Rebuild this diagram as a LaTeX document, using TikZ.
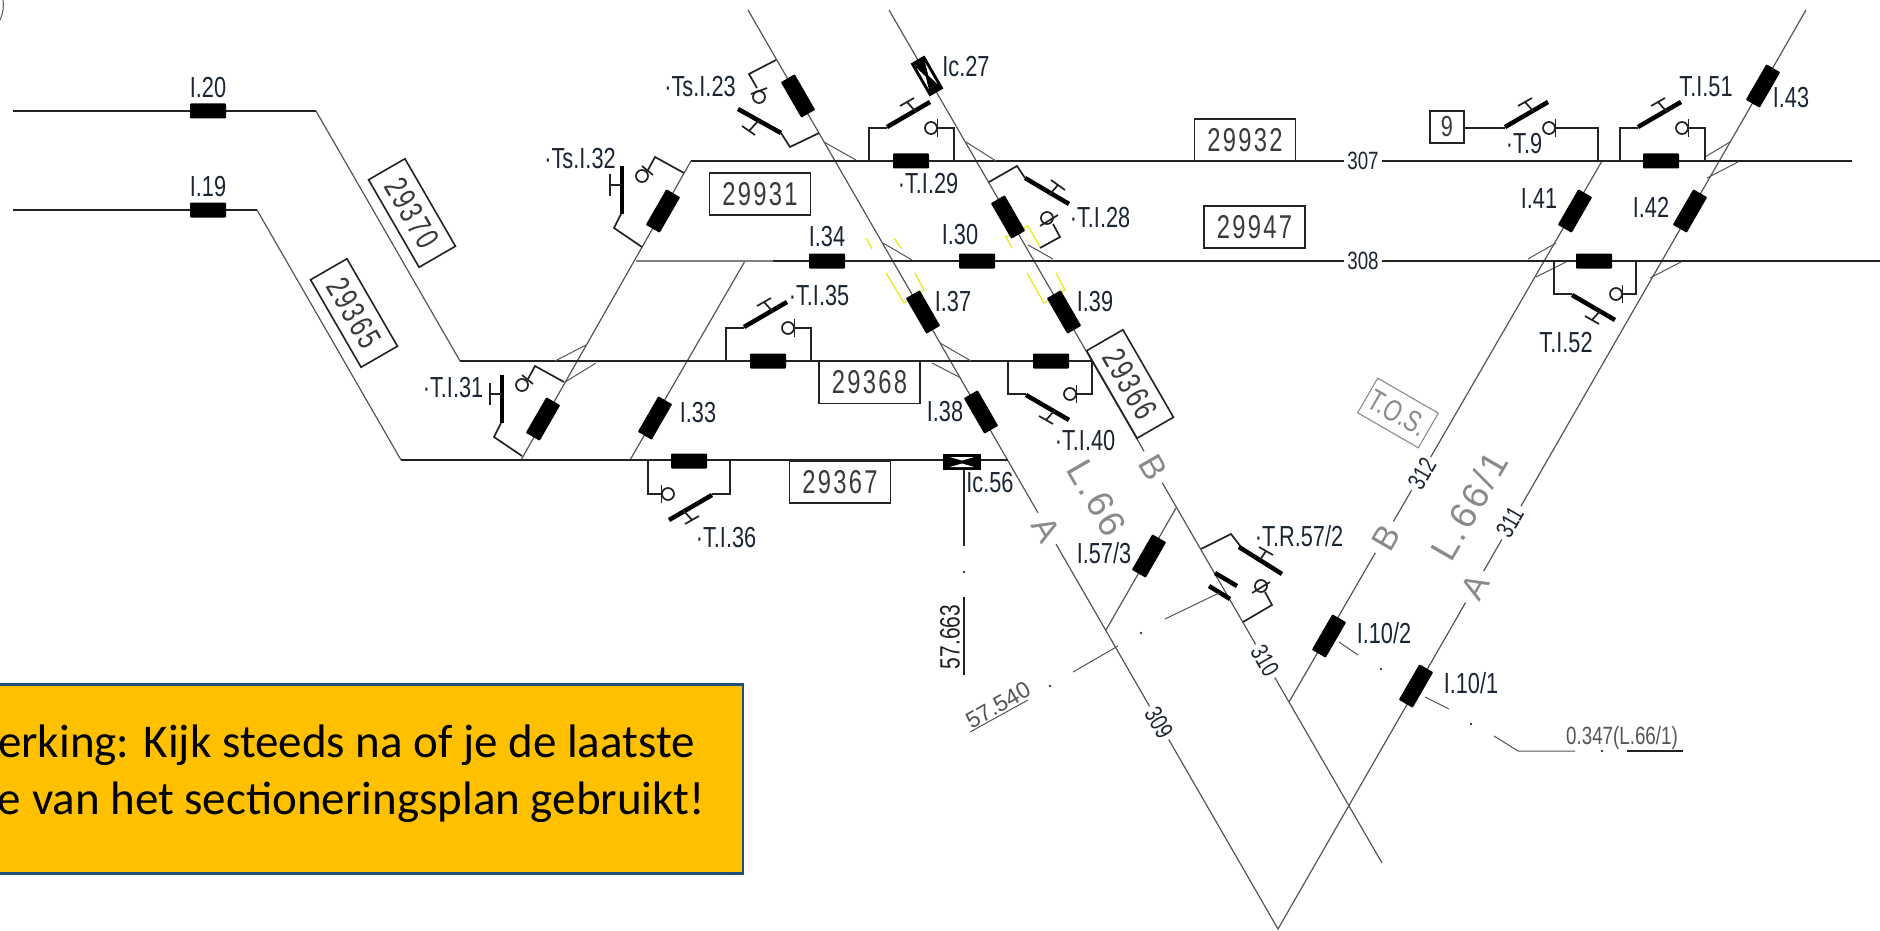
\documentclass[tikz,border=0pt]{standalone}
\usepackage{fontspec}
\setmainfont{Liberation Sans}
\newfontfamily\isofont[FakeStretch=0.75]{Liberation Sans}
\newfontfamily\boxfont[FakeStretch=0.72,LetterSpace=7]{Liberation Sans}
\newfontfamily\tagfont[LetterSpace=8]{Liberation Sans}
\newfontfamily\wideisofont{Liberation Sans}
\newfontfamily\notefont{Carlito}
\definecolor{railink}{HTML}{222222}
\definecolor{diagink}{HTML}{555555}
\definecolor{tagink}{HTML}{8A8A8A}
\definecolor{labelink}{HTML}{1C2533}
\definecolor{boxink}{HTML}{3A3A3A}
\definecolor{markyellow}{HTML}{E6E619}
\definecolor{notefill}{HTML}{FFC000}
\definecolor{noteline}{HTML}{1F4E79}
\begin{document}
\begin{tikzpicture}[x=1pt,y=-1pt,
	rail/.style={line width=2pt,draw=railink},
	diag/.style={line width=1.2pt,draw=diagink},
	wire/.style={line width=1.7pt,draw=railink},
	blade/.style={line width=4.5pt,draw=black},
	thinmark/.style={line width=1pt,draw=diagink},
	yellowmark/.style={line width=1.2pt,draw=markyellow},
	insul/.style={rectangle,fill=black,minimum width=36pt,minimum height=15pt,inner sep=0pt,rounded corners=0.8pt},
	slantinsul/.style={insul,minimum width=41pt,minimum height=16pt},
	lbl/.style={text=labelink,inner sep=0pt,font=\isofont\fontsize{29}{29}\selectfont},
	numbox/.style={draw=railink,line width=1.6pt,minimum width=101pt,minimum height=42pt,inner sep=0pt,text=boxink,font=\boxfont\fontsize{33}{33}\selectfont},
	tracktag/.style={fill=white,inner xsep=0pt,inner ysep=1pt,minimum width=38pt,text=labelink,font=\isofont\fontsize{25}{25}\selectfont},
	linetag/.style={fill=white,inner xsep=0pt,inner ysep=1pt,minimum width=36pt,text=tagink,font=\wideisofont\fontsize{34}{34}\selectfont},
	linename/.style={text=tagink,inner sep=0pt,font=\tagfont\fontsize{37}{37}\selectfont},
	kmlbl/.style={text=diagink,inner sep=0pt,font=\wideisofont\fontsize{23}{23}\selectfont},
	switchhead/.pic={
		\draw[blade] (0,-1) -- (43,-26);
		\draw[wire] (13,-22) -- (27,-30) (20,-26) -- (29,-16);
		\draw[wire] (44,0) circle (6);
		\draw[wire] (50.5,-9) -- (50.5,9);
	},
	sideswitch/.pic={
		\draw[blade] (0,0) -- (0,48);
		\draw[wire] (-12,8) -- (-12,30) (-12,19) -- (0,19);
		\draw[wire] (-1,48) -- (-8,62) -- (20,81);
		\draw[wire] (20,10) circle (6);
		\draw[wire] (20,0) -- (31,9);
		\draw[wire] (26,4) -- (33,-9) -- (62,7);
	},
	icjoint/.pic={
		\fill[black] (-19,-8) rectangle (19,8);
		\fill[white] (-12,-5) -- (12,-5) -- (0,-1.5) -- cycle;
		\fill[white] (-12,5) -- (12,5) -- (0,1.5) -- cycle;
	}]
	\clip (0,0) rectangle (1880,931);
	\fill[white] (0,0) rectangle (1880,931);

	% Track corners
	\coordinate (n1) at (13,111);
	\coordinate (n2) at (316,111);
	\coordinate (n3) at (460,361);
	\coordinate (n4) at (1092,361);
	\coordinate (s1) at (13,210);
	\coordinate (s2) at (257,210);
	\coordinate (s3) at (401,460);
	\coordinate (s4) at (1008,460);
	\coordinate (atop) at (748,10);
	\coordinate (vbot) at (1278,929);
	\coordinate (btop) at (889,10);
	\coordinate (bend) at (1382,863);
	\coordinate (vtop) at (1806,10);
	\coordinate (vb1) at (1289,702);
	\coordinate (vb2) at (1602,161);
	\coordinate (up1) at (521,460);
	\coordinate (up2) at (691,161);
	\coordinate (up3) at (630,460);
	\coordinate (up4) at (745,261);
	\coordinate (t1) at (1852,161);
	\coordinate (m1) at (636,261);
	\coordinate (m2) at (773,261);
	\coordinate (m3) at (1880,261);
	\coordinate (br1) at (1176,508);
	\coordinate (br2) at (1106,630);

	% Tracks
	\draw[diag] (atop) -- (vbot) -- (vtop);
	\draw[diag] (btop) -- (bend);
	\draw[diag] (vb1) -- (vb2);
	\draw[diag] (up1) -- (up2);
	\draw[diag] (up3) -- (up4);
	\draw[diag] (br1) -- (br2);
	\draw[diag] (n2) -- (n3);
	\draw[diag] (s2) -- (s3);
	\draw[rail] (n1) -- (n2);
	\draw[rail] (s1) -- (s2);
	\draw[rail] (n3) -- (n4);
	\draw[rail] (s3) -- (s4);
	\draw[rail] (up2) -- (t1);
	\draw[diag,draw=gray] (m1) -- (m2);
	\draw[rail] (m2) -- (m3);

	% Small chevrons at the crossings
	\draw[thinmark] (555,361) -- (586,345);
	\draw[thinmark] (565,382) -- (596,363);
	\draw[thinmark] (824,142) -- (856,160);
	\draw[thinmark] (966,142) -- (996,161);
	\draw[thinmark] (883,243) -- (912,260);
	\draw[thinmark] (1028,245) -- (1053,259);
	\draw[thinmark] (940,343) -- (971,361);
	\draw[thinmark] (932,363) -- (961,378);
	\draw[thinmark] (1705,157) -- (1730,142);
	\draw[thinmark] (1707,178) -- (1738,162);
	\draw[thinmark] (1528,259) -- (1556,243);
	\draw[thinmark] (1536,277) -- (1566,262);
	\draw[thinmark] (1650,278) -- (1681,262);

	% Yellow marks
	\draw[yellowmark] (866,238) -- (872,249);
	\draw[yellowmark] (894,238) -- (902,249);
	\draw[yellowmark] (886,273) -- (904,303) -- (924,290) -- (915,273);
	\draw[yellowmark] (1012,248) -- (1006,237) -- (1028,226) -- (1040,247);
	\draw[yellowmark] (1027,273) -- (1044,303) -- (1065,290) -- (1056,273);

	% Insulators
	\node[insul] (i20) at (208,111) {};
	\node[insul] (i19) at (208,210) {};
	\node[slantinsul,rotate=60] (i31) at (543,419) {};
	\node[slantinsul,rotate=60] (i32) at (663,211) {};
	\node[slantinsul,rotate=60] (i33) at (655,418) {};
	\node[slantinsul,rotate=-60] (i23) at (798,96) {};
	\node[insul] (i29) at (911,161) {};
	\node[insul] (i34) at (827,261) {};
	\node[insul] (i30) at (977,261) {};
	\node[slantinsul,rotate=-60] (i28) at (1008,217) {};
	\node[slantinsul,rotate=-60] (i37) at (923,312) {};
	\node[slantinsul,rotate=-60] (i39) at (1064,312) {};
	\node[insul] (i35) at (768,361) {};
	\node[insul] (i40) at (1051,361) {};
	\node[slantinsul,rotate=-60] (i38) at (981,412) {};
	\node[insul] (i36) at (689,461) {};
	\node[insul] (i51) at (1661,161) {};
	\node[slantinsul,rotate=60] (i43) at (1763,86) {};
	\node[slantinsul,rotate=60] (i41) at (1575,211) {};
	\node[slantinsul,rotate=60] (i42) at (1690,211) {};
	\node[insul] (i52) at (1594,261) {};
	\node[slantinsul,rotate=60] (i573) at (1149,556) {};
	\node[slantinsul,rotate=60] (i102) at (1329,636) {};
	\node[slantinsul,rotate=60] (i101) at (1416,686) {};
	\pic[rotate=-60] at (927,76) {icjoint};
	\pic at (962,462) {icjoint};

	% Section boxes
	\node[numbox,rotate=-60] (b29370) at (412,213) {29370};
	\node[numbox,rotate=-60] (b29365) at (354,313) {29365};
	\node[numbox,rotate=-60] (b29366) at (1130,384) {29366};
	\node[numbox] (b29931) at (760,194) {29931};
	\node[numbox] (b29368) at (869.5,382.5) {29368};
	\node[numbox] (b29367) at (840,482) {29367};
	\node[numbox] (b29932) at (1245,140) {29932};
	\node[numbox] (b29947) at (1254.5,227) {29947};
	\node[numbox,minimum width=34pt,minimum height=32pt,font=\isofont\fontsize{29}{29}\selectfont] (b9) at (1447,127) {9};
	\node[numbox,rotate=-30,minimum width=70pt,minimum height=40pt,font=\isofont\fontsize{30}{30}\selectfont,draw=tagink,text=tagink,line width=1.1pt] (btos) at (1398,413) {T.O.S.};

	% Switches
	\pic at (887,128) {switchhead};
	\draw[wire] (869,161) |- (887,128);
	\draw[wire] (937.5,128) -| (954,161);
	\pic at (744,328) {switchhead};
	\draw[wire] (726,361) |- (744,328);
	\draw[wire] (794.5,328) -| (811,361);
	\pic at (1638,128) {switchhead};
	\draw[wire] (1620,161) |- (1638,128);
	\draw[wire] (1688.5,128) -| (1705,161);
	\coordinate (t9) at (1505,128);
	\pic at (t9) {switchhead};
	\draw[wire] (b9.east |- t9) -- (t9);
	\draw[wire] (1555.5,128) -| (1598,161);
	\pic[yscale=-1] at (1026,394) {switchhead};
	\draw[wire] (1008,361) |- (1026,394);
	\draw[wire] (1076.5,394) -| (1092,361);
	\pic[yscale=-1] at (1572,294) {switchhead};
	\draw[wire] (1554,261) |- (1572,294);
	\draw[wire] (1622.5,294) -| (1636,261);
	\pic[rotate=180] at (712,494) {switchhead};
	\draw[wire] (730,461) |- (712,494);
	\draw[wire] (661.5,494) -| (648,461);
	\pic at (502,375) {sideswitch};
	\pic at (622,166) {sideswitch};

	% Ts.I.23
	\draw[wire] (776,60) -- (749,74) -- (757,88);
	\draw[wire] (759,97) circle (6);
	\draw[wire] (751,94) -- (767,88);
	\draw[blade] (738,109) -- (781,133);
	\draw[wire] (742,126) -- (755,135) (749,131) -- (759,120);
	\draw[wire] (781,133) -- (790,147) -- (819,133);

	% T.I.28
	\draw[wire] (989,182) -- (1017,166) -- (1025,178);
	\draw[blade] (1025,178) -- (1069,204);
	\draw[wire] (1051,180) -- (1065,190) (1058,185) -- (1049,195);
	\draw[wire] (1047,218) circle (6);
	\draw[wire] (1040,226) -- (1058,215);
	\draw[wire] (1053,224) -- (1060,237) -- (1040,248);

	% T.R.57/2
	\draw[wire] (1201,549) -- (1231,534) -- (1241,547);
	\draw[blade] (1239,547) -- (1282,574);
	\draw[wire] (1259,547) -- (1273,555) (1266,551) -- (1260,560);
	\draw[wire] (1261,586) circle (6);
	\draw[wire] (1252,593) -- (1270,582);
	\draw[wire] (1265,592) -- (1272,605) -- (1243,622);
	\draw[blade] (1215,573) -- (1237,586);
	\draw[blade] (1209,586) -- (1230,599);
	\draw[thinmark] (1165,619) -- (1219,593);

	% Leaders and kilometre marks
	\draw[wire] (964,470) -- (964,546);
	\draw[wire] (964,597) -- (964,675);
	\fill[black] (964,572) circle (1.2);
	\draw[thinmark] (1073,672) -- (1118,646);
	\draw[thinmark] (970,732) -- (1028,700);
	\fill[black] (1050,686) circle (1.2);
	\fill[black] (1141,633) circle (1.2);
	\draw[thinmark] (1339,642) -- (1358,655);
	\fill[black] (1381,669) circle (1.2);
	\draw[thinmark] (1425,697) -- (1449,709);
	\fill[black] (1471,724) circle (1.2);
	\draw[thinmark] (1494,736) -- (1518,751) -- (1575,751);
	\fill[black] (1602,751) circle (1.2);
	\draw[wire] (1627,751) -- (1683,751);
	\draw[thinmark] (3,0) to[bend left=15] (0,20);

	% Labels
	\node[lbl] (l20) at (208,88) {I.20};
	\node[lbl] (l19) at (208,187) {I.19};
	\node[lbl] (l32) at (580,159) {·Ts.I.32};
	\node[lbl] (l31) at (453,388) {·T.I.31};
	\node[lbl] (l23) at (700,87) {·Ts.I.23};
	\node[lbl] (l27) at (966,67) {Ic.27};
	\node[lbl] (l29) at (928,184) {·T.I.29};
	\node[lbl] (l28) at (1100,218) {·T.I.28};
	\node[lbl] (l34) at (827,237) {I.34};
	\node[lbl] (l30) at (960,235) {I.30};
	\node[lbl] (l35) at (819,296) {·T.I.35};
	\node[lbl] (l37) at (953,302) {I.37};
	\node[lbl] (l39) at (1095,302) {I.39};
	\node[lbl] (l38) at (945,412) {I.38};
	\node[lbl] (l33) at (698,413) {I.33};
	\node[lbl] (l40) at (1085,441) {·T.I.40};
	\node[lbl] (l56) at (990,483) {Ic.56};
	\node[lbl] (l36) at (726,538) {·T.I.36};
	\node[lbl] (l573) at (1104,553) {I.57/3};
	\node[lbl] (l572) at (1299,536) {·T.R.57/2};
	\node[lbl] (l102) at (1384,633) {I.10/2};
	\node[lbl] (l101) at (1471,683) {I.10/1};
	\node[lbl] (l9) at (1524,144) {·T.9};
	\node[lbl] (l51) at (1706,87) {T.I.51};
	\node[lbl] (l43) at (1791,98) {I.43};
	\node[lbl] (l41) at (1539,199) {I.41};
	\node[lbl] (l42) at (1651,207) {I.42};
	\node[lbl] (l52) at (1566,343) {T.I.52};

	% Track numbers and line names
	\node[tracktag] (n307) at (1363,161) {307};
	\node[tracktag] (n308) at (1363,261) {308};
	\node[tracktag,rotate=-60] (n309) at (1159,723) {309};
	\node[tracktag,rotate=-60] (n310) at (1265,661) {310};
	\node[tracktag,rotate=60] (n311) at (1510,522) {311};
	\node[tracktag,rotate=60] (n312) at (1422,474) {312};
	\node[linetag,rotate=-60] (la) at (1046,529) {A};
	\node[linetag,rotate=-60] (lb) at (1153,467) {B};
	\node[linetag,rotate=60] (rb) at (1386,538) {B};
	\node[linetag,rotate=60] (ra) at (1475,587) {A};
	\node[linename,rotate=-60] (l66) at (1097,498) {L.66};
	\node[linename,rotate=60] (l661) at (1469,506) {L.66/1};
	\node[lbl,rotate=90,text=railink,font=\isofont\fontsize{28}{28}\selectfont] (k663) at (950,637) {57.663};
	\node[kmlbl,rotate=30] (k540) at (998,705) {57.540};
	\node[kmlbl,font=\isofont\fontsize{25}{25}\selectfont] (k347) at (1622,738) {0.347(L.66/1)};

	% Note
	\node[rectangle,fill=notefill,draw=noteline,line width=2.5pt,minimum width=751pt,minimum height=189pt,inner sep=0pt] (note) at (367.5,779) {};
	\node[anchor=east,inner sep=0pt,font=\notefont\fontsize{47}{47}\selectfont] (note1) at (695,745) {erking: Kijk steeds na of je de laatste};
	\node[anchor=east,inner sep=0pt,font=\notefont\fontsize{47}{47}\selectfont] (note2) at (705,802) {e van het sectioneringsplan gebruikt!};
\end{tikzpicture}
\end{document}
